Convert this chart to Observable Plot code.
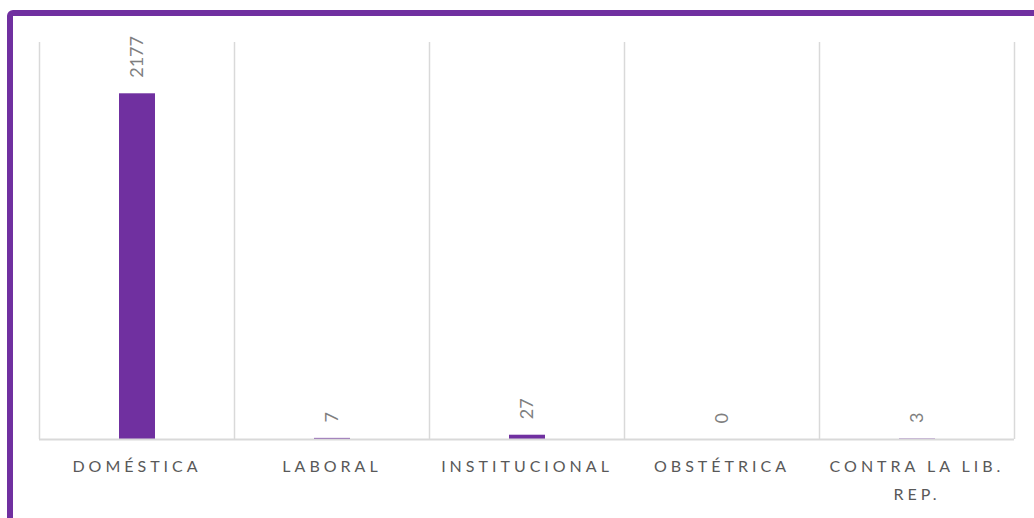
<!DOCTYPE html>
<html>
<head>
<meta charset="utf-8">
<script src="https://cdn.jsdelivr.net/npm/d3@7"></script>
<script src="https://cdn.jsdelivr.net/npm/@observablehq/plot@0.6"></script>
<style>
  html, body { margin: 0; padding: 0; background: #fff; overflow: hidden; width: 1034px; height: 518px; }
  #frame { position: absolute; left: 7px; top: 10px; width: 1100px; height: 600px; border: 6px solid #7030A0; border-radius: 6px; box-sizing: border-box; }
  #chart { position: absolute; left: 0; top: 0; }
  #chart svg { font-family: Lato, sans-serif; }
  #chart g[aria-label="x-axis tick label"] text { letter-spacing: 4px; }
</style>
</head>
<body>
<div id="frame"></div>
<div id="chart"></div>
<script>
const categories = ["DOMÉSTICA", "LABORAL", "INSTITUCIONAL", "OBSTÉTRICA", "CONTRA LA LIB. REP."];
const values = [2177, 7, 27, 0, 3];

const data = categories.map((c, i) => ({category: c, value: values[i]}));

const W = 1034, H = 518;
const mL = 39, mR = 20;
const step = (W - mL - mR) / categories.length;

const chart = Plot.plot({
  width: W,
  height: H,
  marginLeft: mL,
  marginRight: mR,
  marginTop: 42,
  marginBottom: 79,
  style: {background: "transparent", fontFamily: "Lato, sans-serif"},
  x: {domain: categories, padding: 0, axis: null},
  y: {domain: [0, 2500], axis: null},
  marks: [
    Plot.ruleX(categories, {x: d => d, dx: -step / 2, stroke: "#d9d9d9", strokeWidth: 1.5}),
    Plot.ruleX([categories[categories.length - 1]], {x: d => d, dx: step / 2, stroke: "#d9d9d9", strokeWidth: 1.5}),
    Plot.barY(data, {x: "category", y: "value", fill: "#7030A0", insetLeft: 80, insetRight: 79}),
    Plot.ruleY([0], {stroke: "#d9d9d9", strokeWidth: 2}),
    Plot.text(data, {x: "category", y: "value", text: d => String(d.value), rotate: -90, textAnchor: "start", dy: -16, fontSize: 18, fill: "#7f7f7f"}),
    Plot.axisX({
      label: null,
      tickSize: 0,
      tickPadding: 13,
      fontSize: 16,
      fill: "#595959",
      lineHeight: 1.75,
      tickFormat: d => d.replace("LIB. ", "LIB.\n")
    })
  ]
});
document.getElementById("chart").appendChild(chart);
</script>
</body>
</html>
